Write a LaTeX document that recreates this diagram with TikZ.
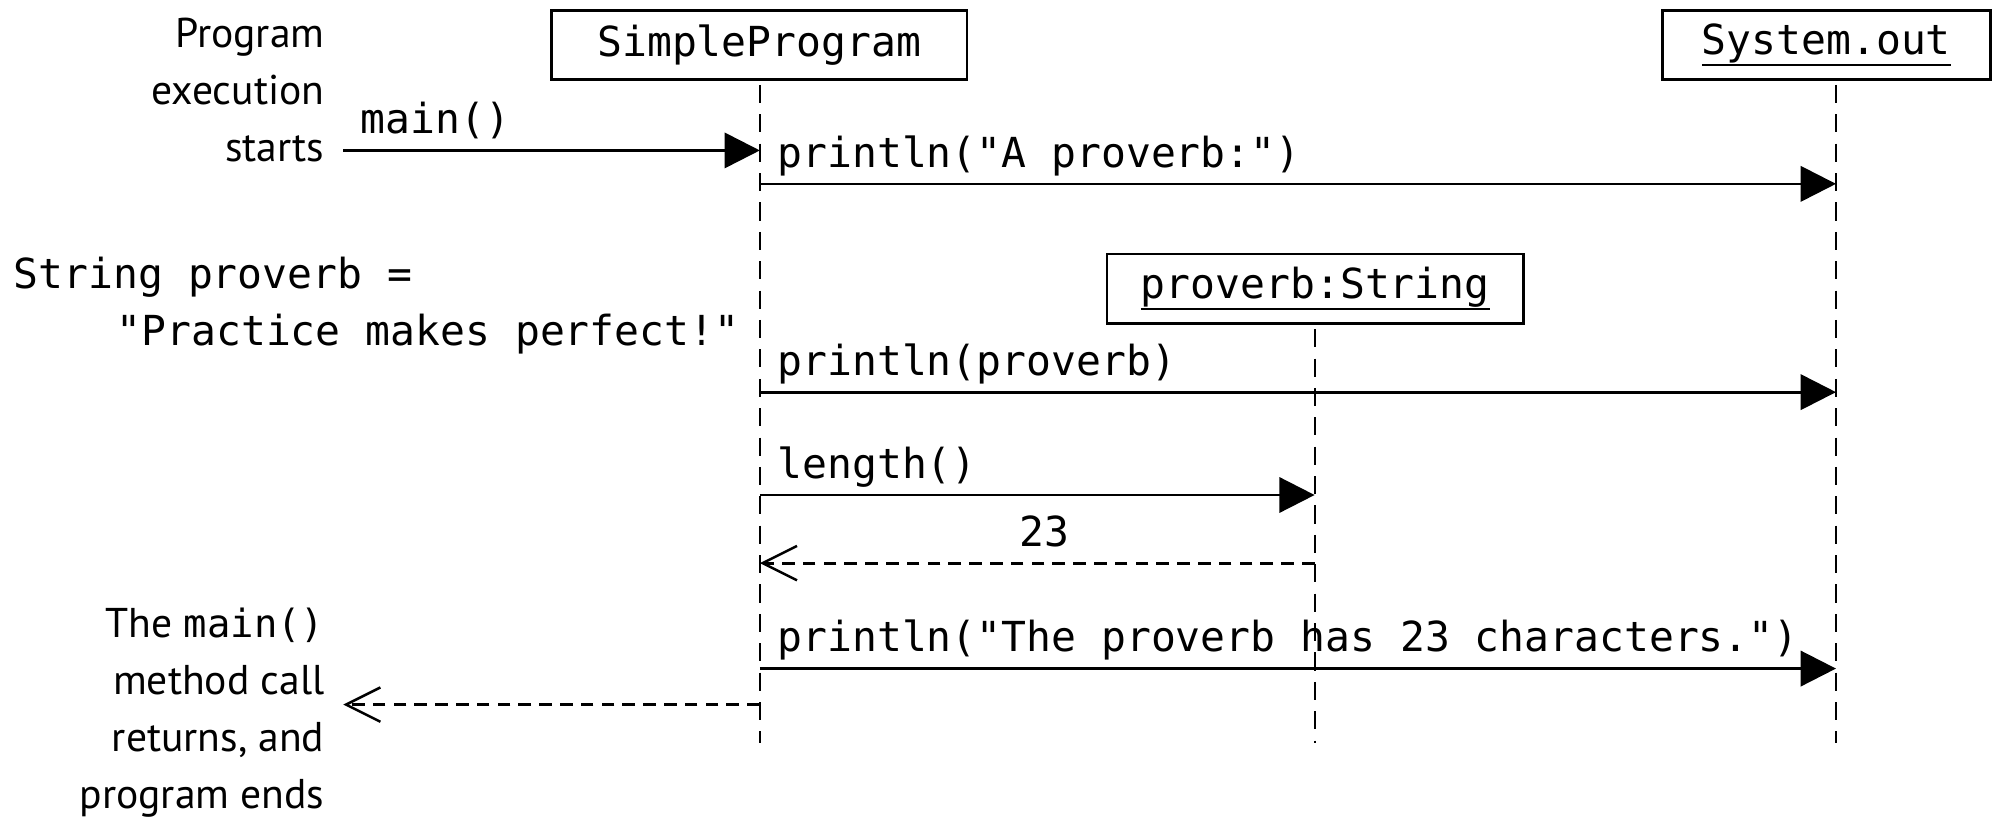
\documentclass[tikz,border=0pt]{standalone}
\usepackage{fontspec}
\setmainfont{PT Sans}
\newfontfamily\monofam{DejaVu Sans Mono}
\usetikzlibrary{arrows.meta}

\newcommand{\codefont}{\monofam\fontsize{9.15}{12}\selectfont}
\newcommand{\notefont}{\fontsize{9.2}{12.6}\selectfont}
\newcommand{\inlinecode}[1]{{\monofam\fontsize{8.6}{12.6}\selectfont #1}}
\newsavebox{\objbox}
\newcommand{\objname}[1]{\sbox{\objbox}{#1}\rlap{\usebox{\objbox}}\rule[-0.27em]{\wd\objbox}{0.5pt}}

\tikzset{
  obj/.style={draw, line width=0.6pt, inner sep=0pt, font=\codefont,
              minimum height=0.54cm},
  lifeline/.style={line width=0.45pt, dash pattern=on 4pt off 2.5pt},
  call/.style={line width=0.6pt, -{Triangle[length=7.8pt,width=7.8pt]}},
  reply/.style={line width=0.6pt, dash pattern=on 2.8pt off 1.8pt,
                -{Straight Barb[length=7.6pt,width=7.6pt,line width=0.55pt]}},
  msg/.style={font=\codefont, inner sep=0pt, anchor=base west},
  note/.style={font=\notefont, align=right, inner sep=0pt, anchor=east},
  codenote/.style={font=\codefont, inner sep=0pt, anchor=base west},
}

\begin{document}
\begin{tikzpicture}[x=0.01cm, y=-0.01cm]
\useasboundingbox (0,0) rectangle (1568,636);

% objects
\node[obj, minimum width=3.23cm] (sp) at (590.5,35) {SimpleProgram};
\node[obj, minimum width=2.55cm] (so) at (1420.5,35) {\objname{System.out}};
\node[obj, minimum width=3.24cm] (ps) at (1023,224.5) {\objname{proverb:String}};

% lifelines
\coordinate (spTop) at (591,66);   \coordinate (spEnd) at (591,578);
\coordinate (soTop) at (1428,66);  \coordinate (soEnd) at (1428,578);
\coordinate (psTop) at (1022.5,256); \coordinate (psEnd) at (1022.5,578);
\draw[lifeline] (spTop) -- (spEnd);
\draw[lifeline] (soTop) -- (soEnd);
\draw[lifeline] (psTop) -- (psEnd);

% message rows
\coordinate (rMain) at (0,117);
\coordinate (rA) at (0,143);
\coordinate (rP) at (0,305);
\coordinate (rL) at (0,385);
\coordinate (rR) at (0,438);
\coordinate (rT) at (0,520);
\coordinate (rEnd) at (0,548);
\coordinate (start) at (267,117);
\coordinate (finish) at (267,548);

% program start
\draw[call] (start) -- (spEnd |- rMain);
\node[msg] (mainlbl) at (280,104) {main()};
\node[note] (startnote) at (253,70) {Program\\execution\\starts};

% messages
\draw[call] (spEnd |- rA) -- (soEnd |- rA);
\node[msg] (lblA) at (604,130) {println("A proverb:")};

\node[codenote] (decl1) at (10,224) {String proverb =};
\node[codenote] (decl2) at (90,269) {"Practice makes perfect!"};

\draw[call] (spEnd |- rP) -- (soEnd |- rP);
\node[msg] (lblP) at (604,292) {println(proverb)};

\draw[call] (spEnd |- rL) -- (psEnd |- rL);
\node[msg] (lblL) at (604,372) {length()};

\draw[reply] (psEnd |- rR) -- (spEnd |- rR);
\node[msg, anchor=base] (lblR) at (812,425) {23};

\draw[call] (spEnd |- rT) -- (soEnd |- rT);
\node[msg] (lblT) at (604,507) {println("The proverb has 23 characters.")};

% program end
\draw[reply] (spEnd |- rEnd) -- (finish);
\node[note] (endnote) at (253,554) {The \inlinecode{main()}\\method call\\returns, and\\program ends};
\end{tikzpicture}
\end{document}
